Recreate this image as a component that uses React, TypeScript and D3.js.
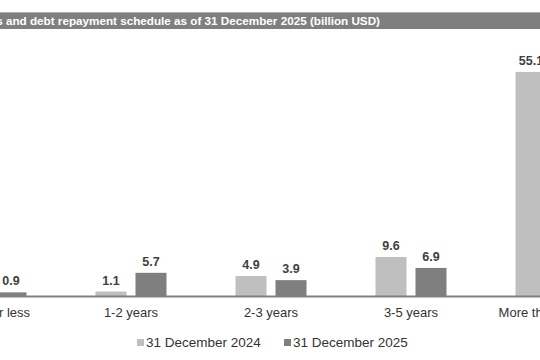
import React, { useEffect, useRef } from 'react'
import * as d3 from 'd3'

// Maturity buckets (first and last are cut off by the frame in the reference)
const categories = ['1 year or less', '1-2 years', '2-3 years', '3-5 years', 'More than 5 years']
const seriesNames = ['31 December 2024', '31 December 2025']
const values2024 = [2.1, 1.1, 4.9, 9.6, 55.1]
const values2025 = [0.9, 5.7, 3.9, 6.9, 45.0]
const titleText = 'Loans and debt repayment schedule as of 31 December 2025 (billion USD)'

const colors = ['#bfbfbf', '#7f7f7f']

export default function App() {
  const svgRef = useRef<SVGSVGElement>(null)

  useEffect(() => {
    if (!svgRef.current) return
    const svg = d3.select(svgRef.current)
    svg.selectAll('*').remove()

    const width = 540
    const baseline = 296

    // the picture is a crop: categories run past both edges
    const x0 = d3.scaleBand<string>().domain(categories).range([-79, 621]).padding(0)
    const x1 = d3.scaleBand<string>().domain(seriesNames).range([0, x0.bandwidth()])
      .paddingInner(0.225).paddingOuter(0.8625)
    const y = d3.scaleLinear().domain([0, 60]).range([baseline, 52])

    const font = 'Arial, "Liberation Sans", sans-serif'

    // title band
    svg.append('rect')
      .attr('x', 0).attr('y', 12).attr('width', width).attr('height', 17)
      .attr('fill', '#7f7f7f')
    svg.append('line')
      .attr('x1', 0).attr('x2', width).attr('y1', 12.5).attr('y2', 12.5)
      .attr('stroke', '#b0b0b0').attr('stroke-width', 1)
    svg.append('text')
      .attr('x', 380).attr('y', 24.5)
      .attr('text-anchor', 'end')
      .attr('fill', '#ffffff')
      .style('font-family', font)
      .style('font-size', '11.7px')
      .style('font-weight', 'bold')
      .text(titleText)

    const rows = categories.map((c, i) => ({ cat: c, vals: [values2024[i], values2025[i]] }))

    const groups = svg.append('g').selectAll('g')
      .data(rows)
      .join('g')
      .attr('transform', d => `translate(${x0(d.cat)},0)`)

    groups.selectAll('rect')
      .data(d => d.vals.map((v, j) => ({ v, s: seriesNames[j], j })))
      .join('rect')
      .attr('x', d => x1(d.s)!)
      .attr('y', d => y(d.v))
      .attr('width', x1.bandwidth())
      .attr('height', d => baseline - y(d.v))
      .attr('fill', d => colors[d.j])

    groups.selectAll('text.val')
      .data(d => d.vals.map((v, j) => ({ v, s: seriesNames[j] })))
      .join('text')
      .attr('class', 'val')
      .attr('x', d => x1(d.s)! + x1.bandwidth() / 2)
      .attr('y', d => y(d.v) - 7)
      .attr('text-anchor', 'middle')
      .attr('fill', '#404040')
      .style('font-family', font)
      .style('font-size', '12.5px')
      .style('font-weight', 'bold')
      .text(d => d.v.toFixed(1))

    // axis baseline
    svg.append('line')
      .attr('x1', 0).attr('x2', width)
      .attr('y1', baseline + 0.5).attr('y2', baseline + 0.5)
      .attr('stroke', '#808080').attr('stroke-width', 2)

    groups.append('text')
      .attr('x', x0.bandwidth() / 2)
      .attr('y', 317)
      .attr('text-anchor', 'middle')
      .attr('fill', '#333333')
      .style('font-family', font)
      .style('font-size', '13px')
      .text(d => d.cat)

    // legend
    const legendX = [137, 284]
    const legend = svg.append('g').selectAll('g')
      .data(seriesNames)
      .join('g')
      .attr('transform', (d, i) => `translate(${legendX[i]},338)`)
    legend.append('rect')
      .attr('width', 7).attr('height', 7).attr('y', 1)
      .attr('fill', (d, i) => colors[i])
    legend.append('text')
      .attr('x', 9).attr('y', 8.5)
      .attr('fill', '#333333')
      .style('font-family', font)
      .style('font-size', '13.5px')
      .text(d => d)
  }, [])

  return (
    <svg
      ref={svgRef}
      width={540}
      height={360}
      style={{ position: 'fixed', left: 0, top: 0, background: '#ffffff' }}
    />
  )
}
